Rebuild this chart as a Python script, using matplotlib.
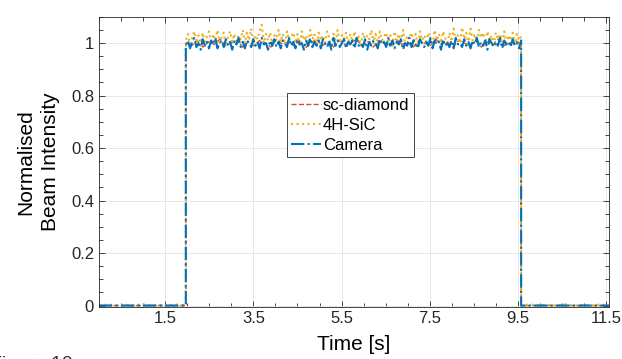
import numpy as np
import matplotlib
matplotlib.use('Agg')
import matplotlib.pyplot as plt
from matplotlib.ticker import MultipleLocator

plt.rcParams['font.family'] = ['Liberation Sans', 'DejaVu Sans']

# beam on / off times [s]
t_on = 1.97
t_off = 9.57
t_end = 11.56

# plateau values (normalised)
diamond_on = [1.00, 0.99, 1.01, 0.985, 1.005, 0.995, 1.015, 0.99, 1.00, 1.01,
              0.985, 1.005, 0.99, 1.01, 1.00, 0.985, 1.015, 0.995, 1.005, 0.99,
              1.01, 0.98, 1.00, 1.015, 0.99, 1.005, 0.985, 1.01, 0.995, 1.00,
              1.015, 0.99, 1.005, 0.985, 1.01, 1.00, 0.99, 1.015, 0.995, 1.005,
              0.985, 1.01, 1.00, 0.99, 1.015, 0.995, 1.005, 0.985, 1.01, 1.00,
              0.99, 1.01, 0.985, 1.005, 0.995, 1.015, 0.99, 1.00, 1.01, 0.995]
sic_on = [1.01, 1.035, 0.995, 1.02, 1.045, 1.00, 1.03, 0.99, 1.04, 1.005,
          1.025, 1.045, 0.995, 1.035, 1.01, 1.05, 1.00, 1.025, 1.04, 0.99,
          1.02, 1.045, 1.005, 1.035, 0.995, 1.03, 1.015, 1.05, 1.00, 1.04,
          1.01, 1.055, 0.995, 1.03, 1.015, 1.045, 1.07, 1.00, 1.035, 1.01,
          1.04, 0.99, 1.03, 1.02, 1.05, 1.005, 1.035, 0.995, 1.045, 1.01,
          1.025, 1.04, 1.00, 1.035, 0.99, 1.045, 1.01, 1.03, 1.005, 1.05,
          1.015, 1.035, 0.995, 1.04, 1.01, 1.03, 1.00, 1.045, 1.02, 0.99,
          1.035, 1.01, 1.05, 1.00, 1.03, 1.015, 1.04, 0.995, 1.035, 1.005,
          1.045, 1.01, 1.025, 0.99, 1.04, 1.005, 1.03, 1.015, 1.05, 1.00,
          1.035, 0.995, 1.045, 1.01, 1.025, 1.04, 1.00, 1.03, 0.99, 1.045,
          1.01, 1.035, 1.005, 1.05, 0.995, 1.03, 1.015, 1.04, 1.00, 1.035,
          0.99, 1.045, 1.01, 1.03, 1.005, 1.04, 1.015, 0.995, 1.05, 1.01,
          1.035, 1.00, 1.045, 1.02, 0.99, 1.04, 1.005, 1.055, 1.01, 1.03,
          1.00, 1.06, 1.015, 1.04, 0.995, 1.055, 1.01, 1.035, 1.005, 1.05,
          1.02, 1.04, 1.00, 1.045, 1.01, 1.03, 0.995, 1.04, 1.015, 1.035,
          1.005, 1.045, 1.00, 1.03, 1.01, 1.04, 0.995, 1.035, 1.01, 1.025]
camera_on = [0.99, 1.01, 0.98, 1.005, 1.02, 0.985, 1.00, 0.975, 1.015, 0.99,
             1.005, 0.98, 1.01, 0.995, 1.02, 0.98, 1.00, 1.01, 0.985, 1.015,
             0.99, 1.005, 0.975, 1.01, 0.995, 1.02, 0.985, 1.005, 0.98, 1.01,
             1.00, 0.985, 1.015, 0.99, 1.005, 0.98, 1.02, 0.995, 1.00, 0.975,
             1.01, 0.99, 1.015, 0.985, 1.005, 0.98, 1.01, 1.00, 0.985, 1.02,
             0.99, 1.005, 0.98, 1.015, 0.995, 1.00, 0.975, 1.01, 0.99, 1.02,
             0.985, 1.005, 0.99, 1.01, 0.98, 1.015, 1.00, 0.985, 1.005, 0.975,
             1.02, 0.99, 1.01, 0.985, 1.00, 1.015, 0.98, 1.005, 0.995, 1.01,
             0.98, 1.02, 0.99, 1.00, 0.985, 1.015, 0.975, 1.005, 0.99, 1.01,
             1.00, 0.98, 1.015, 0.995, 1.005, 0.985, 1.02, 0.99, 1.01, 0.98,
             1.005, 0.995, 1.015, 0.975, 1.00, 0.99, 1.02, 0.985, 1.01, 0.995,
             0.98, 1.015, 1.00, 0.985, 1.005, 0.99, 1.02, 0.98, 1.01, 0.995,
             1.005, 0.975, 1.015, 0.99, 1.00, 0.985, 1.01, 0.98, 1.02, 0.995,
             1.00, 0.985, 1.015, 0.99, 1.005, 0.98, 1.01, 0.995, 1.02, 0.985,
             1.005, 0.99, 1.01, 0.975, 1.015, 1.00, 0.985, 1.005, 0.99, 1.02,
             0.98, 1.01, 0.995, 1.005, 0.985, 1.015, 0.99, 1.00, 0.98, 1.01]

# beam-off values
sic_off = [0.0, 0.004, 0.0, 0.003, 0.0, 0.005, 0.0, 0.002, 0.0, 0.004, 0.0]
flat_off = [0.0, 0.0, 0.0, 0.0, 0.0, 0.0, 0.0, 0.0, 0.0, 0.0, 0.0]

x_ticks = [1.5, 3.5, 5.5, 7.5, 9.5, 11.5]
y_ticks = [0, 0.2, 0.4, 0.6, 0.8, 1]


def build(off, on):
    t = np.concatenate([np.linspace(0, t_on, len(off)),
                        np.linspace(t_on, t_off, len(on)),
                        np.linspace(t_off, t_end, len(off))])
    y = np.concatenate([off, on, off])
    return t, y


fig = plt.figure(figsize=(6.22, 3.59), dpi=100)
ax = fig.add_axes([0.159, 0.146, 0.82, 0.807])

t, y = build(flat_off, diamond_on)
ax.plot(t, y, '--', color='#D95319', lw=1.0, label='sc-diamond')
t, y = build(sic_off, sic_on)
ax.plot(t, y, ':', color='#EDB120', lw=1.5, label='4H-SiC')
t, y = build(flat_off, camera_on)
ax.plot(t, y, '-.', color='#0072BD', lw=1.5, label='Camera')

ax.set_xlim(0, t_end)
ax.set_ylim(-0.004, 1.1)
ax.set_xticks(x_ticks)
ax.set_xticklabels([str(v) for v in x_ticks])
ax.set_yticks(y_ticks)
ax.set_yticklabels(['0', '0.2', '0.4', '0.6', '0.8', '1'])
ax.xaxis.set_minor_locator(MultipleLocator(0.5))
ax.yaxis.set_minor_locator(MultipleLocator(0.05))
ax.tick_params(which='both', direction='in', top=True, right=True,
               colors='#262626', labelsize=12, width=0.6)
ax.tick_params(which='major', length=4)
ax.tick_params(which='minor', length=3)
ax.grid(True, color='#e3e3e3', lw=0.6)
ax.set_axisbelow(True)
for s in ax.spines.values():
    s.set_color('#262626')
    s.set_linewidth(0.6)

ax.set_xlabel('Time [s]', fontsize=15, labelpad=6)
ax.set_ylabel('Normalised\nBeam Intensity', fontsize=15, labelpad=8, linespacing=1.35)

leg = ax.legend(loc='upper left', bbox_to_anchor=(0.369, 0.736), borderaxespad=0,
                fontsize=12, handlelength=1.8, handletextpad=0.1, labelspacing=0.32,
                borderpad=0.25, fancybox=False, framealpha=1, edgecolor='#262626')
leg.get_frame().set_linewidth(0.6)

fig.text(-10 / 622, 3 / 359, 'Figure 10', fontsize=14, color='#333333', va='top')

plt.savefig('out.png', dpi=100)
